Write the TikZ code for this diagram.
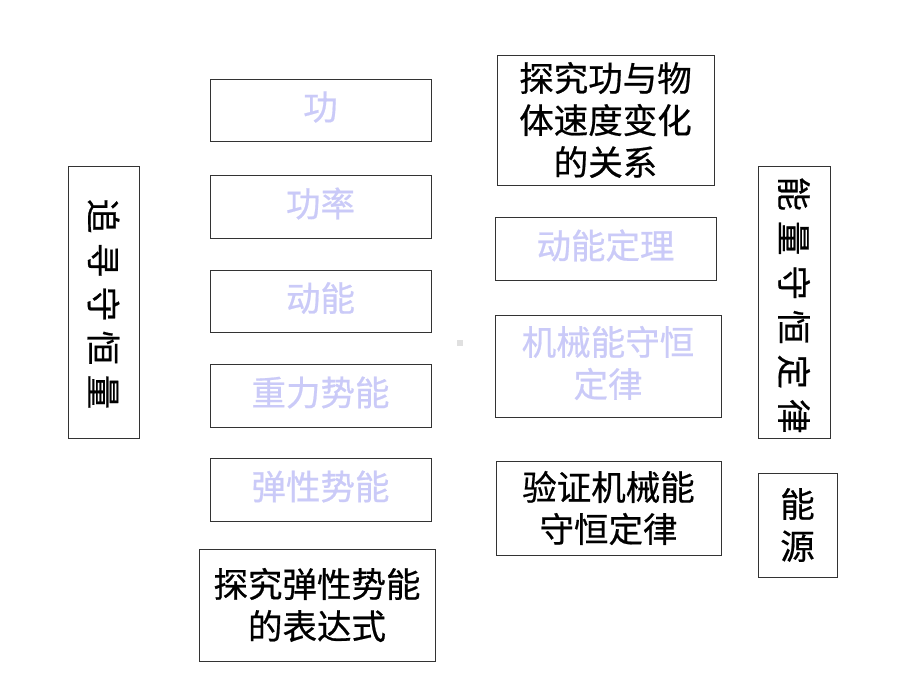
\documentclass[tikz,border=0pt]{standalone}
\usepackage{fontspec}
\setmainfont{Noto Sans CJK SC}[BoldFont={Noto Sans CJK SC},BoldFeatures={FakeBold=0.6}]
\definecolor{pale}{HTML}{CACAF8}
\newcommand{\cjkbig}{\fontsize{34.5}{42}\selectfont\bfseries}
\begin{document}
\begin{tikzpicture}[x=1pt,y=-1pt,
  box/.style={draw=black!80,line width=0.9pt,inner sep=0pt},
  pal/.style={text=pale,font=\cjkbig,yshift=3pt},
  blk/.style={text=black,font=\cjkbig},
  vert/.style={text=black,font=\cjkbig,rotate=-90}]
\useasboundingbox[fill=white] (0,0) rectangle (920,690);
% left column
\draw[box] (210,79) rectangle (431,141) node[midway,pal] (a) {功};
\draw[box] (210,175) rectangle (431,238) node[midway,pal] (b) {功率};
\draw[box] (210,270) rectangle (431,332) node[midway,pal] (c) {动能};
\draw[box] (210,364) rectangle (431,427) node[midway,pal] (d) {重力势能};
\draw[box] (210,458) rectangle (431,521) node[midway,pal] (e) {弹性势能};
\draw[box] (199,549) rectangle (435,661) node[midway,blk,align=center] (f) {探究弹性势能\\的表达式};
% side boxes
\draw[box] (68,166) rectangle (139,438) node[midway,vert,xshift=2pt] (g) {追\hspace{9.5pt}寻\hspace{9.5pt}守\hspace{9.5pt}恒\hspace{9.5pt}量};
\draw[box] (758,166) rectangle (830,438) node[midway,vert,xshift=3pt] (h) {能\hspace{10pt}量\hspace{10pt}守\hspace{10pt}恒\hspace{10pt}定\hspace{10pt}律};
\draw[box] (758,473) rectangle (837,577) node[midway,blk,align=center] (i) {能\\源};
% right column
\draw[box] (497,55) rectangle (714,185) node[midway,blk,align=center] (j) {探究功与物\\体速度变化\\的关系};
\draw[box] (495,217) rectangle (716,280) node[midway,pal] (k) {动能定理};
\draw[box] (495,315) rectangle (721,417) node[midway,pal,align=center] (l) {机械能守恒\\定律};
\draw[box] (496,461) rectangle (721,555) node[midway,blk,align=center] (m) {验证机械能\\守恒定律};
% small dot
\fill[black!12] (457,340) rectangle (463,346);
\end{tikzpicture}
\end{document}
